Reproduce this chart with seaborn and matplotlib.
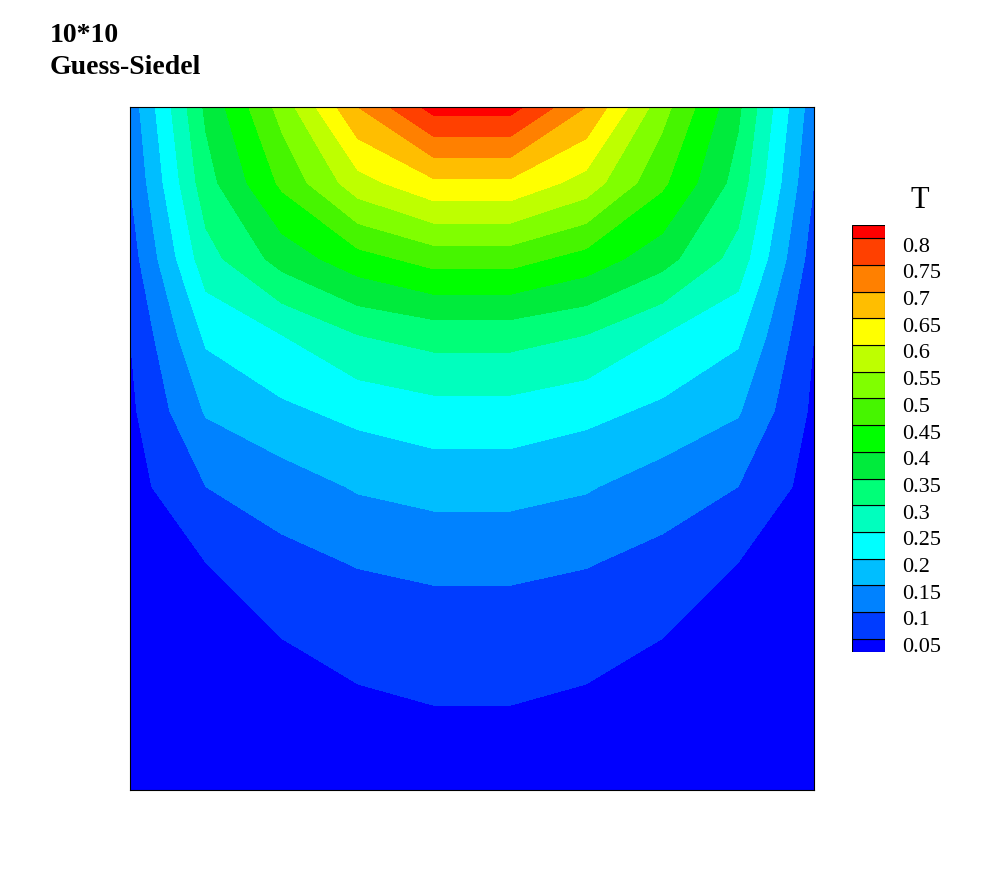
import numpy as np
import matplotlib
matplotlib.use("Agg")
import matplotlib.pyplot as plt
import seaborn as sns

sns.set_style("white")
plt.rcParams['font.family'] = ['Liberation Serif', 'DejaVu Serif']
plt.rcParams['text.color'] = 'black'
plt.rcParams['ytick.color'] = 'black'

x = np.linspace(0, 1, 10)
y = np.linspace(0, 1, 10)
# rows from bottom (y=0) to top (y=1)
T = [
    [0.005, 0.010, 0.015, 0.020, 0.022, 0.022, 0.020, 0.015, 0.010, 0.005],
    [0.010, 0.020, 0.030, 0.040, 0.047, 0.047, 0.040, 0.030, 0.020, 0.010],
    [0.015, 0.035, 0.050, 0.065, 0.072, 0.072, 0.065, 0.050, 0.035, 0.015],
    [0.020, 0.050, 0.085, 0.103, 0.112, 0.112, 0.103, 0.085, 0.050, 0.020],
    [0.030, 0.100, 0.125, 0.155, 0.168, 0.168, 0.155, 0.125, 0.100, 0.030],
    [0.040, 0.155, 0.190, 0.215, 0.232, 0.232, 0.215, 0.190, 0.155, 0.040],
    [0.050, 0.210, 0.250, 0.300, 0.320, 0.320, 0.300, 0.250, 0.210, 0.050],
    [0.075, 0.280, 0.370, 0.430, 0.470, 0.470, 0.430, 0.370, 0.280, 0.075],
    [0.100, 0.330, 0.460, 0.580, 0.640, 0.640, 0.580, 0.460, 0.330, 0.100],
    [0.120, 0.360, 0.520, 0.700, 0.820, 0.820, 0.700, 0.520, 0.360, 0.120],
]
levels = [0.05, 0.1, 0.15, 0.2, 0.25, 0.3, 0.35, 0.4, 0.45, 0.5, 0.55,
          0.6, 0.65, 0.7, 0.75, 0.8]
tick_labels = ["0.05", "0.1", "0.15", "0.2", "0.25", "0.3", "0.35", "0.4", "0.45",
               "0.5", "0.55", "0.6", "0.65", "0.7", "0.75", "0.8"]
rgb = [(0, 0, 255), (0, 60, 255), (0, 130, 255), (0, 190, 255), (0, 255, 255),
       (0, 255, 190), (0, 255, 120), (0, 235, 60), (0, 255, 0), (70, 245, 0),
       (128, 255, 0), (190, 255, 0), (255, 255, 0), (255, 190, 0), (255, 128, 0),
       (255, 64, 0), (255, 0, 0)]
colors = [tuple(c / 255 for c in v) for v in rgb]

fig = plt.figure(figsize=(10, 8.89), dpi=100)
ax = fig.add_axes([0.13, 0.111, 0.684, 0.7686])
full_levels = [-1.0] + levels + [2.0]
ax.contourf(x, y, np.array(T), levels=full_levels, colors=colors)
ax.set_xlim(0, 1); ax.set_ylim(0, 1)
ax.set_xticks([]); ax.set_yticks([])
for s in ax.spines.values():
    s.set_linewidth(0.8); s.set_color("black")

# legend boxes
cax = fig.add_axes([0.852, 1 - 652 / 889, 0.033, 427 / 889])
edges = [0.025] + levels + [0.825]
for k in range(len(colors)):
    cax.bar(0.5, edges[k + 1] - edges[k], bottom=edges[k], width=1.0,
            color=colors[k], edgecolor="black", linewidth=0.8)
cax.set_xlim(0, 1); cax.set_ylim(0.025, 0.825)
cax.set_xticks([])
cax.yaxis.tick_right()
cax.set_yticks([v - 0.012 for v in levels])
cax.set_yticklabels(tick_labels, fontsize=16)
cax.tick_params(axis="y", length=0, pad=12, labelcolor="black")
for s in cax.spines.values():
    s.set_visible(False)
fig.text(0.92, 1 - 200 / 889, "T", fontsize=22, ha="center", va="center")

fig.text(0.05, 1 - 35 / 889, "10*10", fontsize=20, fontweight="bold", va="center")
fig.text(0.05, 1 - 67 / 889, "Guess-Siedel", fontsize=20, fontweight="bold", va="center")

fig.savefig("out.png", dpi=100)
